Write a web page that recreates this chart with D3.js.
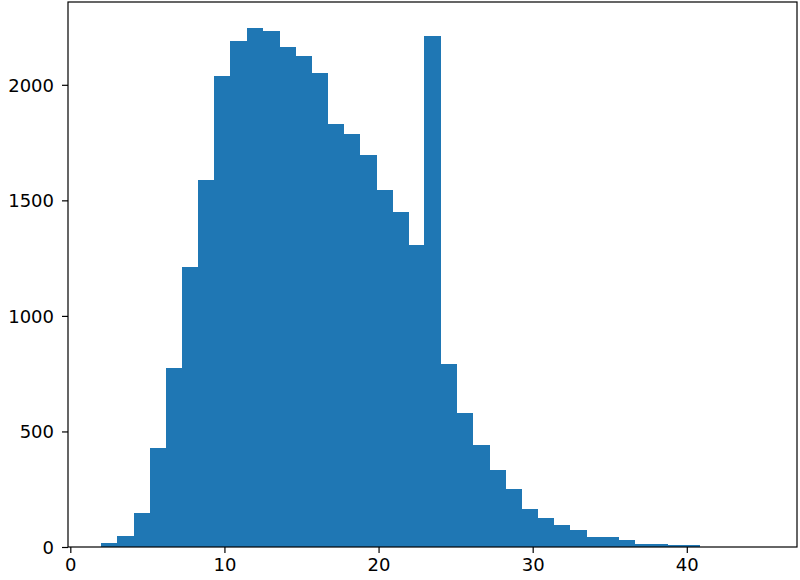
<!DOCTYPE html>
<html>
<head>
<meta charset="utf-8">
<script src="https://cdn.jsdelivr.net/npm/d3@7"></script>
<style>
  html, body { margin: 0; padding: 0; background: #fff; }
  svg { display: block; }
  .tick text { font-family: "DejaVu Sans", sans-serif; font-size: 18px; fill: #000; }
</style>
</head>
<body>
<svg id="chart" width="800" height="580"></svg>
<script>
// Bin edges (x values)
const binEdges = [2.00, 3.05, 4.10, 5.15, 6.20, 7.24, 8.29, 9.34, 10.39, 11.44,
  12.49, 13.54, 14.59, 15.63, 16.68, 17.73, 18.78, 19.83, 20.88, 21.93,
  22.98, 24.02, 25.07, 26.12, 27.17, 28.22, 29.27, 30.32, 31.37, 32.41,
  33.46, 34.51, 35.56, 36.61, 37.66, 38.71, 39.76, 40.80, 41.85, 42.90,
  43.95, 45.00];
// Counts per bin
const counts = [19, 46, 148, 428, 774, 1213, 1589, 2037, 2190, 2246,
  2233, 2164, 2126, 2051, 1832, 1788, 1698, 1546, 1451, 1308,
  2210, 792, 582, 441, 332, 249, 166, 127, 96, 74,
  43, 43, 30, 14, 14, 8, 8, 0, 0, 0,
  0];
const xTicks = [0, 10, 20, 30, 40];
const yTicks = [0, 500, 1000, 1500, 2000];

const bins = counts.map((c, i) => ({ x0: binEdges[i], x1: binEdges[i + 1], count: c }));

const svg = d3.select("#chart");
const mLeft = 68, mRight = 797, mTop = 2, mBottom = 547;

const lo = binEdges[0], hi = binEdges[binEdges.length - 1];
const pad = (hi - lo) * 0.05;
const x = d3.scaleLinear().domain([lo - pad, hi + pad]).range([mLeft, mRight]);
const y = d3.scaleLinear().domain([0, d3.max(counts) * 1.05]).range([mBottom, mTop]);

svg.append("rect").attr("x", 0).attr("y", 0).attr("width", 800).attr("height", 580).attr("fill", "#fff");

svg.append("g").attr("shape-rendering", "crispEdges")
  .selectAll("rect").data(bins.filter(d => d.count > 0)).join("rect")
  .attr("x", d => x(d.x0))
  .attr("y", d => y(d.count))
  .attr("width", d => x(d.x1) - x(d.x0) + 0.6)
  .attr("height", d => y(0) - y(d.count))
  .attr("fill", "#1f77b4");

const xAxis = svg.append("g").attr("transform", `translate(0,${mBottom})`)
  .call(d3.axisBottom(x).tickValues(xTicks).tickSize(6).tickPadding(5).tickFormat(d3.format("d")));
const yAxis = svg.append("g").attr("transform", `translate(${mLeft},0)`)
  .call(d3.axisLeft(y).tickValues(yTicks).tickSize(6).tickPadding(8).tickFormat(d3.format("d")));

[xAxis, yAxis].forEach(g => {
  g.select(".domain").remove();
  g.selectAll(".tick line").attr("stroke", "#000").attr("stroke-width", 1.2);
});
yAxis.selectAll(".tick text").attr("dy", "0.36em");

// frame (spines)
svg.append("rect")
  .attr("x", mLeft).attr("y", mTop)
  .attr("width", mRight - mLeft).attr("height", mBottom - mTop)
  .attr("fill", "none").attr("stroke", "#000").attr("stroke-width", 1.2);
</script>
</body>
</html>
